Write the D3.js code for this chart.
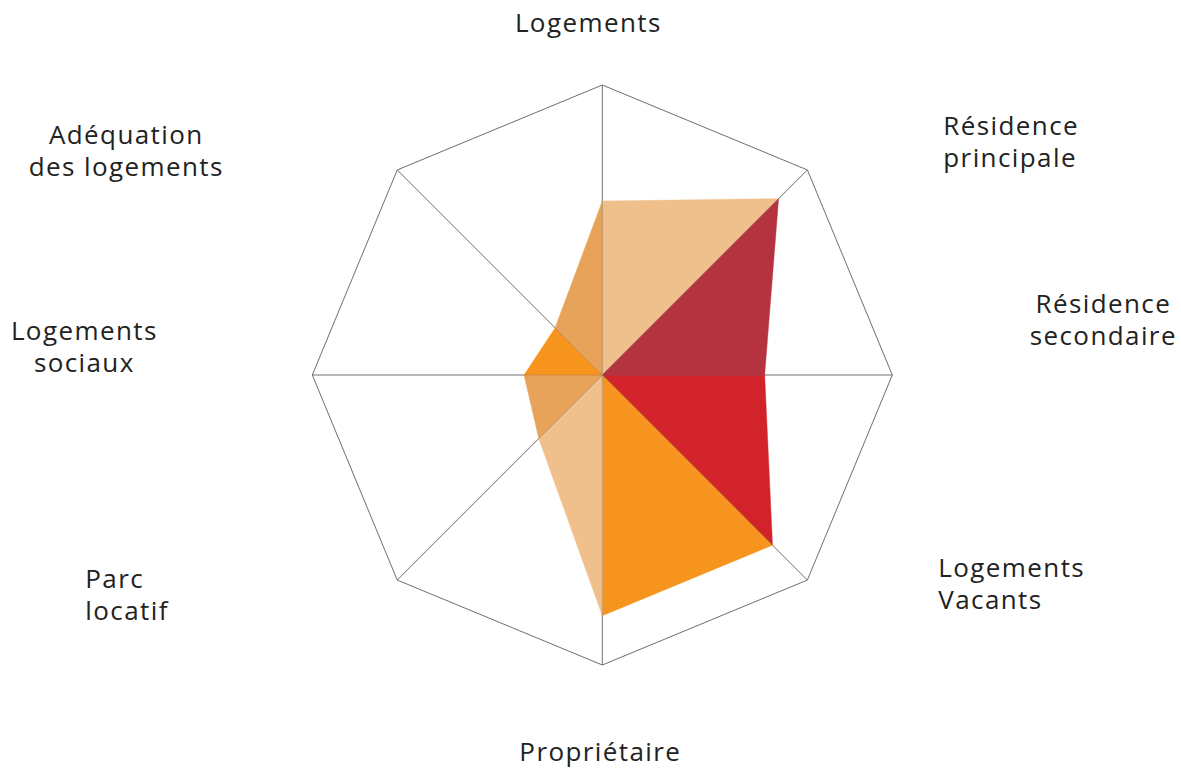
<!DOCTYPE html>
<html>
<head>
<meta charset="utf-8">
<script src="https://cdn.jsdelivr.net/npm/d3@7"></script>
<style>
  html, body { margin: 0; padding: 0; background: #ffffff; }
  svg { display: block; }
  .lbl { font-family: "Open Sans", sans-serif; font-size: 26px; fill: #222222; letter-spacing: 1.4px; }
</style>
</head>
<body>
<svg id="chart" width="1181" height="770"></svg>
<script>
// ---- data ----
const axes = ["Logements", "Résidence principale", "Résidence secondaire", "Logements Vacants",
              "Propriétaire", "Parc locatif", "Logements sociaux", "Adéquation des logements"];
const labelLines = [["Logements"], ["Résidence", "principale"], ["Résidence", "secondaire"], ["Logements", "Vacants"],
                    ["Propriétaire"], ["Parc", "locatif"], ["Logements", "sociaux"], ["Adéquation", "des logements"]];
const values = [60, 86, 56, 83, 83, 31, 27, 23];
const sectorColors = ["#EFC08C", "#B5333F", "#D2232A", "#F7941D", "#EFC08C", "#E8A35A", "#F7941D", "#E8A35A"];
const maxValue = 100;

// ---- layout ----
const W = 1181, H = 770;
const cx = 602.3, cy = 375, R = 290;
const labelLayout = [
  { dx: -14, dy: -343, anchor: "middle" },
  { dx: 341, dy: -240, anchor: "start" },
  { dx: 501, dy: -62, anchor: "middle" },
  { dx: 336, dy: 202, anchor: "start" },
  { dx: -2, dy: 386, anchor: "middle" },
  { dx: -517, dy: 213, anchor: "start" },
  { dx: -518, dy: -35, anchor: "middle" },
  { dx: -476, dy: -231, anchor: "middle" }
];
const lineH = 32;

const svg = d3.select("#chart");
const g = svg.append("g").attr("transform", `translate(${cx},${cy})`);

const rScale = d3.scaleLinear().domain([0, maxValue]).range([0, R]);
const aScale = d3.scaleLinear().domain([0, axes.length]).range([0, 2 * Math.PI]);
const pt = (i, v) => {
  const a = aScale(i);
  const r = rScale(v);
  return [r * Math.sin(a), -r * Math.cos(a)];
};

// grid outline
const outline = d3.range(axes.length).map(i => pt(i, maxValue));
g.append("path")
  .attr("d", d3.line()(outline) + "Z")
  .attr("fill", "none")
  .attr("stroke", "#6e6e6e")
  .attr("stroke-width", 1);

// spokes (under)
g.selectAll("line.spoke")
  .data(axes)
  .join("line")
  .attr("class", "spoke")
  .attr("x1", 0).attr("y1", 0)
  .attr("x2", (d, i) => pt(i, maxValue)[0])
  .attr("y2", (d, i) => pt(i, maxValue)[1])
  .attr("stroke", "#6e6e6e")
  .attr("stroke-width", 1);

// sector triangles
g.selectAll("path.sector")
  .data(values)
  .join("path")
  .attr("class", "sector")
  .attr("d", (v, i) => {
    const j = (i + 1) % values.length;
    return d3.line()([[0, 0], pt(i, v), pt(j, values[j])]) + "Z";
  })
  .attr("fill", (v, i) => sectorColors[i])
  .attr("stroke", (v, i) => sectorColors[i])
  .attr("stroke-width", 0.4);

// faint spokes over fills
g.selectAll("line.spoke2")
  .data(values)
  .join("line")
  .attr("class", "spoke2")
  .attr("x1", 0).attr("y1", 0)
  .attr("x2", (v, i) => pt(i, v)[0])
  .attr("y2", (v, i) => pt(i, v)[1])
  .attr("stroke", "#6e6e6e")
  .attr("stroke-opacity", 0.3)
  .attr("stroke-width", 1);

// labels
const lbl = g.selectAll("text.lbl")
  .data(labelLines)
  .join("text")
  .attr("class", "lbl")
  .attr("text-anchor", (d, i) => labelLayout[i].anchor)
  .attr("x", (d, i) => labelLayout[i].dx)
  .attr("y", (d, i) => labelLayout[i].dy);
lbl.each(function (lines, i) {
  d3.select(this).selectAll("tspan")
    .data(lines)
    .join("tspan")
    .attr("x", labelLayout[i].dx)
    .attr("dy", (d, k) => k === 0 ? 0 : lineH)
    .text(d => d);
});
</script>
</body>
</html>
